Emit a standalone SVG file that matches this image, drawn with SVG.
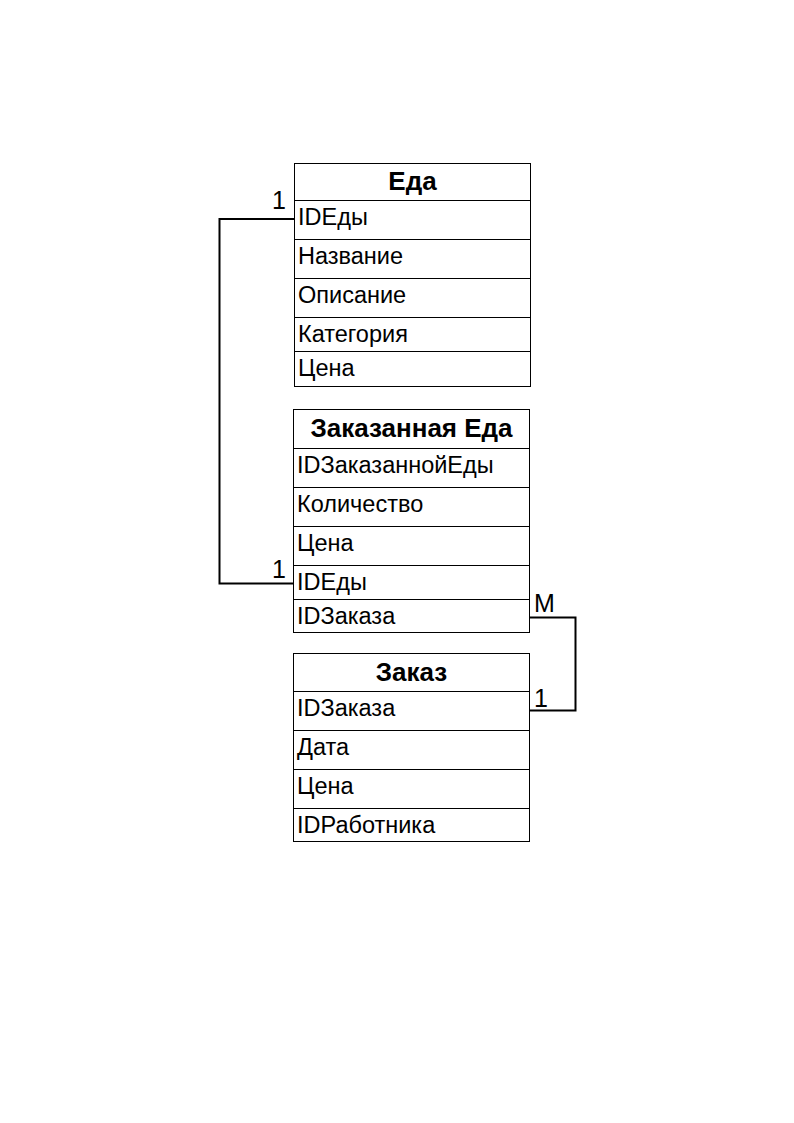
<svg xmlns="http://www.w3.org/2000/svg" width="794" height="1123" viewBox="0 0 794 1123">
<style>
.box{fill:#fff;stroke:#000;stroke-width:1}
.ln{stroke:#000;stroke-width:1}
.h{font-family:"Liberation Sans",Arial,sans-serif;font-weight:bold;font-size:26px;text-anchor:middle;fill:#000}
.t{font-family:"Liberation Sans",Arial,sans-serif;font-size:23.5px;fill:#000}
.lbl{font-family:"Liberation Sans",Arial,sans-serif;font-size:25px;fill:#000}
.c{fill:none;stroke:#000;stroke-width:2}
</style>
<rect width="794" height="1123" fill="#fff"/>
<g id="connectors">
<path class="c" d="M294 219 H219.5 V583.5 H294"/>
<path class="c" d="M527 617.5 H575.5 V710.5 H527"/>
<text class="lbl" x="272" y="209">1</text>
<text class="lbl" x="272" y="578">1</text>
<text class="lbl" x="534" y="612">M</text>
<text class="lbl" x="534" y="707">1</text>
</g>
<g id="eda">
<rect class="box" x="294.5" y="163.5" width="236" height="223"/>
<line class="ln" x1="294.5" y1="200.5" x2="530.5" y2="200.5"/>
<line class="ln" x1="294.5" y1="239.5" x2="530.5" y2="239.5"/>
<line class="ln" x1="294.5" y1="278.5" x2="530.5" y2="278.5"/>
<line class="ln" x1="294.5" y1="317.5" x2="530.5" y2="317.5"/>
<line class="ln" x1="294.5" y1="351.5" x2="530.5" y2="351.5"/>
<text class="h" x="412.5" y="190">Еда</text>
<text class="t" x="298" y="225">IDЕды</text>
<text class="t" x="298" y="264">Название</text>
<text class="t" x="298" y="303">Описание</text>
<text class="t" x="298" y="342">Категория</text>
<text class="t" x="298" y="376">Цена</text>
</g>
<g id="zakazannaya-eda">
<rect class="box" x="293.5" y="409.5" width="236" height="223"/>
<line class="ln" x1="293.5" y1="448.5" x2="529.5" y2="448.5"/>
<line class="ln" x1="293.5" y1="487.5" x2="529.5" y2="487.5"/>
<line class="ln" x1="293.5" y1="526.5" x2="529.5" y2="526.5"/>
<line class="ln" x1="293.5" y1="565.5" x2="529.5" y2="565.5"/>
<line class="ln" x1="293.5" y1="599.5" x2="529.5" y2="599.5"/>
<text class="h" x="411.5" y="437">Заказанная Еда</text>
<text class="t" x="297" y="473">IDЗаказаннойЕды</text>
<text class="t" x="297" y="512">Количество</text>
<text class="t" x="297" y="551">Цена</text>
<text class="t" x="297" y="590">IDЕды</text>
<text class="t" x="297" y="624">IDЗаказа</text>
</g>
<g id="zakaz">
<rect class="box" x="293.5" y="653.5" width="236" height="188"/>
<line class="ln" x1="293.5" y1="691.5" x2="529.5" y2="691.5"/>
<line class="ln" x1="293.5" y1="730.5" x2="529.5" y2="730.5"/>
<line class="ln" x1="293.5" y1="769.5" x2="529.5" y2="769.5"/>
<line class="ln" x1="293.5" y1="808.5" x2="529.5" y2="808.5"/>
<text class="h" x="411.5" y="681">Заказ</text>
<text class="t" x="297" y="716">IDЗаказа</text>
<text class="t" x="297" y="755">Дата</text>
<text class="t" x="297" y="794">Цена</text>
<text class="t" x="297" y="833">IDРаботника</text>
</g>
</svg>
